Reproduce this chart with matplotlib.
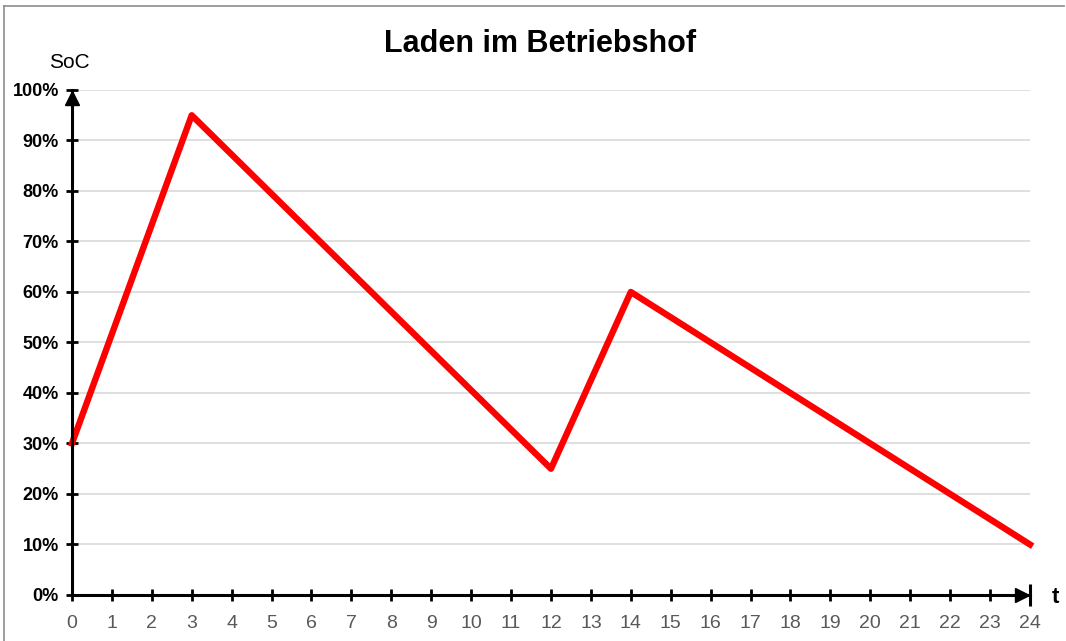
import matplotlib

matplotlib.use("Agg")

import matplotlib.pyplot as plt
from matplotlib.lines import Line2D
from matplotlib.ticker import FuncFormatter

hours = [0, 3, 12, 14, 24]
soc = [0.30, 0.95, 0.25, 0.60, 0.10]
x_ticks = list(range(0, 25))
y_ticks = [i / 10 for i in range(0, 11)]

plt.rcParams["font.family"] = ["Liberation Sans", "DejaVu Sans"]

fig = plt.figure(figsize=(10.66, 6.41), dpi=100)
ax = fig.add_axes([0.0675, 0.0718, 0.8987, 0.7878])

# light frame of the chart area (left and top edge visible)
fig.add_artist(Line2D([0.004, 0.004], [0.0, 0.991], color="#8c8c8c", lw=1.2))
fig.add_artist(Line2D([0.004, 0.998], [0.991, 0.991], color="#8c8c8c", lw=1.2))

ax.plot(hours, soc, color="#ff0000", lw=4.6, solid_joinstyle="round", clip_on=False, zorder=3)

ax.set_xlim(0, 24)
ax.set_ylim(0, 1.0)
ax.set_xticks(x_ticks)
ax.set_yticks(y_ticks)
ax.yaxis.set_major_formatter(FuncFormatter(lambda v, _: f"{v * 100:.0f}%"))
ax.grid(axis="y", color="#d9d9d9", lw=1.2)
ax.set_axisbelow(True)

for side in ("top", "right"):
    ax.spines[side].set_visible(False)
for side in ("left", "bottom"):
    ax.spines[side].set_linewidth(2.2)
    ax.spines[side].set_zorder(4)

ax.tick_params(axis="both", direction="inout", length=9, width=2, color="black")
ax.tick_params(axis="x", labelsize=14, labelcolor="#595959", pad=10)
ax.tick_params(axis="y", labelsize=13, pad=5)
for lab in ax.get_yticklabels():
    lab.set_fontweight("bold")

# arrow heads at the axis ends
ax.plot([0], [0.985], marker="^", color="black", markersize=10, clip_on=False, zorder=5)
ax.plot([23.8], [0], marker=">", color="black", markersize=10, clip_on=False, zorder=5)
ax.plot([24.0], [0], marker="|", color="black", markersize=16, mew=2.2, clip_on=False, zorder=5)

fig.text(0.507, 0.932, "Laden im Betriebshof", ha="center", va="center",
         fontsize=22, fontweight="bold")
fig.text(0.065, 0.903, "SoC", ha="center", va="center", fontsize=15)
fig.text(0.990, 0.068, "t", ha="center", va="center", fontsize=16, fontweight="bold")

fig.savefig("out.png", dpi=100)
plt.close(fig)
